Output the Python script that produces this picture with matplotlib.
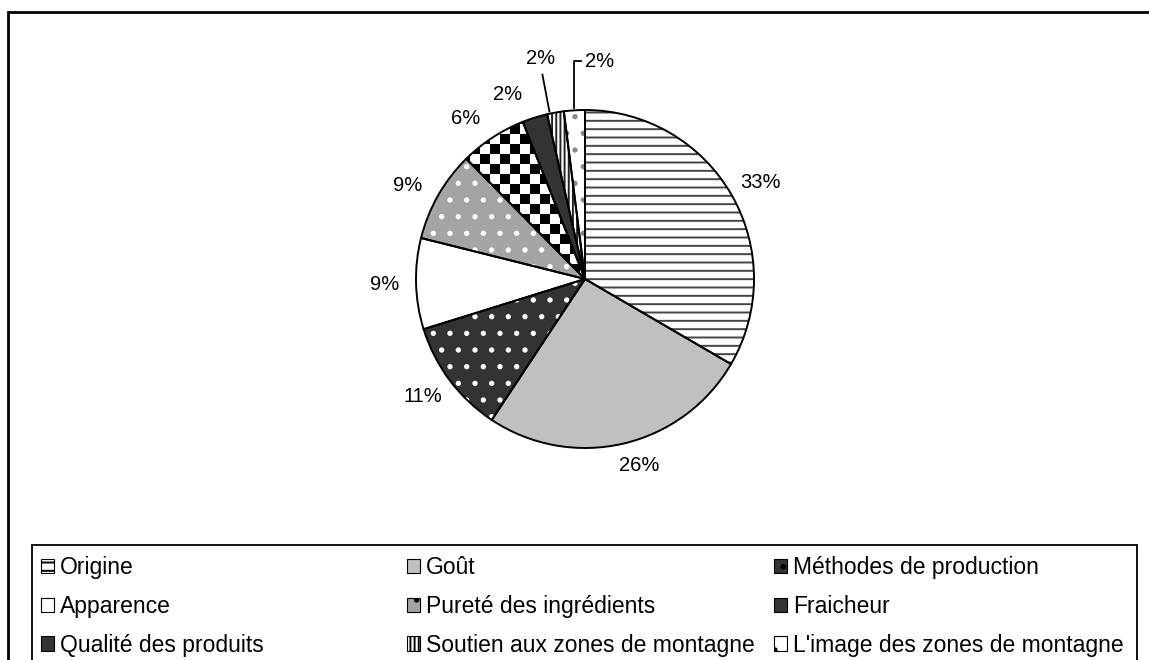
import numpy as np
import matplotlib
matplotlib.use('Agg')
import matplotlib.pyplot as plt
from matplotlib.patches import Rectangle, Patch

plt.rcParams['font.family'] = ['Liberation Sans', 'DejaVu Sans']
plt.rcParams['hatch.linewidth'] = 1.4

labels = ['Origine', 'Goût', 'Méthodes de production', 'Apparence',
          'Pureté des ingrédients', 'Fraicheur', 'Qualité des produits',
          'Soutien aux zones de montagne', "L'image des zones de montagne"]
values = [33.4, 25.9, 10.9, 8.7, 8.7, 6.4, 2.4, 1.6, 2.0]

faces = ['white', '#c0c0c0', '#333333', 'white', '#a4a4a4', 'white',
         '#333333', 'white', 'white']
hatch_cols = ['#444444', '#c0c0c0', 'white', 'white', 'white', 'white',
              '#333333', '#222222', '#888888']
hatches = ['--', None, '.', None, '.', None, None, '||||', '.']

W, H = 1149, 660
fig = plt.figure(figsize=(W / 100, H / 100), dpi=100)

# pie axes, data units ~ pixels
cx, cy, R = 585, 279, 169
ax = fig.add_axes([(cx - 250) / W, (H - cy - 250) / H, 500 / W, 500 / H])

wedges, _ = ax.pie(values, radius=R, startangle=90, counterclock=False,
                   colors=faces, wedgeprops=dict(linewidth=0))
for w, h, hc in zip(wedges, hatches, hatch_cols):
    w.set_edgecolor(hc)
    if h:
        w.set_hatch(h)

# checkerboard for Fraicheur
sq = 10
n = int(2 * R / sq) + 2
checker = (np.add.outer(np.arange(n), np.arange(n)) % 2).astype(float)
img = ax.imshow(checker, cmap='gray', vmin=0.2, vmax=1.0, interpolation='nearest',
                extent=(-n * sq / 2, n * sq / 2, -n * sq / 2, n * sq / 2), zorder=1.5)
img.set_clip_path(wedges[5])

outline, _ = ax.pie(values, radius=R, startangle=90, counterclock=False,
                    wedgeprops=dict(facecolor='none', edgecolor='black',
                                    linewidth=1.4, zorder=2))

# percentage labels (small nudges like the spreadsheet's own placement)
nudge = [-1, 3, -1, 0, 2, 3.5, 5.5]
ang = 90 - 360 * (np.cumsum(values) - np.array(values) / 2) / sum(values)
for i, (v, a) in enumerate(zip(values, ang)):
    t = np.deg2rad(a)
    x0, y0 = R * np.cos(t), R * np.sin(t)
    txt = f'{round(v):.0f}%'
    if i < 7:
        r = R * (1.15 if i == 1 else 1.185)
        tt = np.deg2rad(a + nudge[i])
        ax.text(r * np.cos(tt), r * np.sin(tt), txt, ha='center', va='center',
                fontsize=14.5)
    elif i == 7:
        ax.plot([x0 - 6, x0 - 13], [y0 + 1, y0 + 38], color='black', lw=1.3)
        ax.text(x0 - 15, y0 + 54, txt, ha='center', va='center', fontsize=14.5)
    else:
        ax.plot([x0 + 7, x0, x0], [y0 + 49, y0 + 49, y0 + 2], color='black', lw=1.3)
        ax.text(x0 + 11, y0 + 49, txt, ha='left', va='center', fontsize=14.5)

ax.set_xlim(-250, 250)
ax.set_ylim(-250, 250)
ax.set_aspect('equal')
ax.axis('off')

# frames (cut by the edges like the original)
fig.add_artist(Rectangle((8 / W, -0.1), (1160 - 8) / W, 0.1 + 1 - 12 / H,
                         transform=fig.transFigure, fill=False, lw=2, ec='black'))
fig.add_artist(Rectangle((32 / W, -0.1), (1137 - 32) / W, 0.1 + 1 - 545 / H,
                         transform=fig.transFigure, fill=False, lw=1.3, ec='black'))

# legend in three columns
handles = []
for f, h, hc in zip(faces, hatches, hatch_cols):
    handles.append(Patch(facecolor=f, edgecolor='black', hatch=h, lw=0.8))
handles[5] = Patch(facecolor='#333333', edgecolor='black', lw=0.8)
col_x = [41, 407, 774]
for c in range(3):
    idx = [c, c + 3, c + 6]
    fig.legend([handles[i] for i in idx], [labels[i] for i in idx],
               loc='upper left', bbox_to_anchor=(col_x[c] / W, 1 - 556 / H),
               frameon=False, fontsize=16.5, handlelength=0.57, handleheight=0.57,
               handletextpad=0.26, labelspacing=0.69, borderpad=0, borderaxespad=0)

fig.savefig('out.png', dpi=100)
